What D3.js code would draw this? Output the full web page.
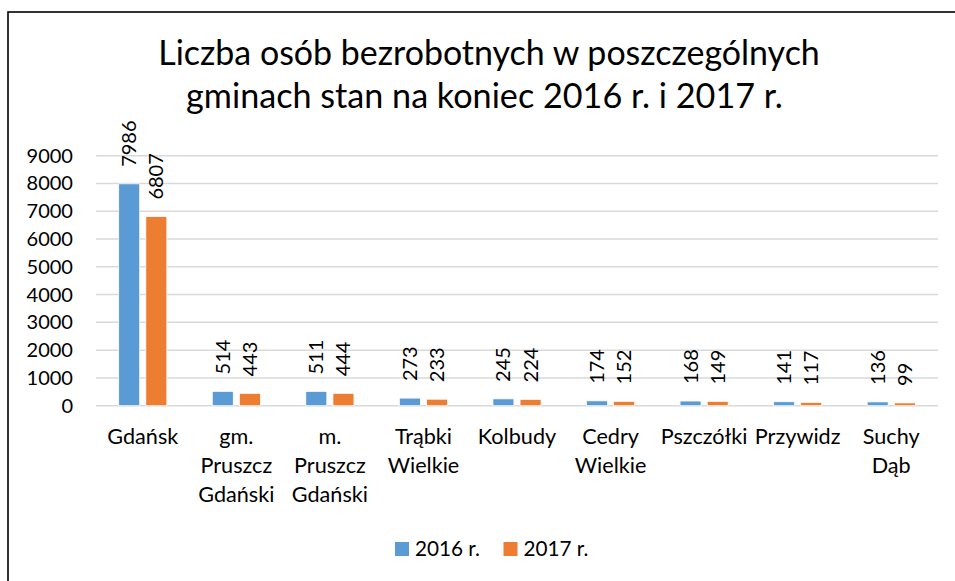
<!DOCTYPE html>
<html>
<head>
<meta charset="utf-8">
<script src="https://cdn.jsdelivr.net/npm/d3@7"></script>
<style>
  body { margin: 0; background: #fff; }
  svg { display: block; }
</style>
</head>
<body>
<div id="chart"></div>
<script>
// data
var categories = ['Gdańsk', 'gm. Pruszcz Gdański', 'm. Pruszcz Gdański', 'Trąbki Wielkie',
  'Kolbudy', 'Cedry Wielkie', 'Pszczółki', 'Przywidz', 'Suchy Dąb'];
var values2016 = [7986, 514, 511, 273, 245, 174, 168, 141, 136];
var values2017 = [6807, 443, 444, 233, 224, 152, 149, 117, 99];
var seriesNames = ['2016 r.', '2017 r.'];
var yTicks = [0, 1000, 2000, 3000, 4000, 5000, 6000, 7000, 8000, 9000];
var titleLines = ['Liczba osób bezrobotnych w poszczególnych', 'gminach stan na koniec 2016 r. i 2017 r.'];

var width = 955, height = 581;
var font = 'Lato, Open Sans, sans-serif';
var colors = ['#5b9bd5', '#ed7d31'];

var svg = d3.select('#chart').append('svg')
  .attr('width', width)
  .attr('height', height);

// chart frame (runs off the right and bottom edge in the original)
svg.append('rect')
  .attr('x', 8).attr('y', 12)
  .attr('width', 1000).attr('height', 1000)
  .attr('fill', 'none')
  .attr('stroke', '#000')
  .attr('stroke-width', 1.6);

// size a font so that a sample string gets a given width
function fitSize(str, target) {
  var t = svg.append('text').style('font-family', font).style('font-size', '100px').text(str);
  var w = t.node().getComputedTextLength();
  t.remove();
  return 100 * target / w;
}
var labelSize = fitSize('Gdańsk', 71);
var tickSize = fitSize('9000', 46.5);

// title
svg.selectAll('.title')
  .data(titleLines)
  .enter()
  .append('text')
  .attr('class', 'title')
  .attr('x', function(d, i) { return i == 0 ? 489 : 484.5; })
  .attr('y', function(d, i) { return i == 0 ? 65 : 108; })
  .attr('text-anchor', 'middle')
  .style('font-family', font)
  .style('font-size', function(d, i) { return fitSize(d, i == 0 ? 662 : 597) + 'px'; })
  .attr('fill', '#000')
  .text(function(d) { return d; });

var plotLeft = 96, plotRight = 938, plotTop = 155.7, plotBottom = 405.7;

var x0 = d3.scaleBand()
  .domain(categories)
  .range([plotLeft, plotRight])
  .padding(0);
var y = d3.scaleLinear()
  .domain([0, 9000])
  .range([plotBottom, plotTop]);

var bw = x0.bandwidth();
var barW = bw * 0.224;
var barGap = bw * 0.066;
var x1 = d3.scaleOrdinal()
  .domain([0, 1])
  .range([bw / 2 - barGap / 2 - barW, bw / 2 + barGap / 2]);

// gridlines
svg.append('g')
  .selectAll('line')
  .data(yTicks)
  .enter()
  .append('line')
  .attr('x1', plotLeft).attr('x2', plotRight)
  .attr('y1', function(d) { return y(d); })
  .attr('y2', function(d) { return y(d); })
  .attr('stroke', '#d9d9d9')
  .attr('stroke-width', 1.5);

// y axis labels
var yAxis = svg.append('g')
  .attr('transform', 'translate(73,0)')
  .call(d3.axisLeft(y).tickValues(yTicks).tickSize(0).tickPadding(0).tickFormat(d3.format('d')));
yAxis.select('.domain').remove();
yAxis.selectAll('text')
  .style('font-family', font)
  .style('font-size', tickSize + 'px')
  .attr('fill', '#000');

// bars
var rows = categories.map(function(c, i) {
  return { cat: c, vals: [values2016[i], values2017[i]] };
});
var groups = svg.selectAll('.grp')
  .data(rows)
  .enter()
  .append('g')
  .attr('class', 'grp')
  .attr('transform', function(d) { return 'translate(' + x0(d.cat) + ',0)'; });

groups.selectAll('rect')
  .data(function(d) { return d.vals; })
  .enter()
  .append('rect')
  .attr('x', function(d, i) { return x1(i); })
  .attr('width', barW)
  .attr('y', function(d) { return y(d); })
  .attr('height', function(d) { return plotBottom - y(d); })
  .attr('fill', function(d, i) { return colors[i]; })
  .attr('stroke', '#fff')
  .attr('stroke-width', 0.7);

// value labels, rotated
groups.selectAll('.val')
  .data(function(d) { return d.vals; })
  .enter()
  .append('text')
  .attr('class', 'val')
  .attr('transform', function(d, i) {
    return 'translate(' + (x1(i) + barW / 2) + ',' + (y(d) - 17) + ') rotate(-90)';
  })
  .attr('text-anchor', 'start')
  .attr('dy', '0.35em')
  .style('font-family', font)
  .style('font-size', tickSize + 'px')
  .attr('fill', '#000')
  .text(function(d) { return d; });

// category labels, wrapped by word
function wrapWords(str, maxW, size) {
  var words = str.split(' ');
  var lines = [];
  var cur = '';
  var t = svg.append('text').style('font-family', font).style('font-size', size + 'px');
  words.forEach(function(w) {
    var test = cur ? cur + ' ' + w : w;
    t.text(test);
    if (cur && t.node().getComputedTextLength() > maxW) {
      lines.push(cur);
      cur = w;
    } else {
      cur = test;
    }
  });
  lines.push(cur);
  t.remove();
  return lines;
}

var xLabels = svg.selectAll('.xlab')
  .data(categories)
  .enter()
  .append('text')
  .attr('class', 'xlab')
  .attr('text-anchor', 'middle')
  .style('font-family', font)
  .style('font-size', labelSize + 'px')
  .attr('fill', '#000');

xLabels.each(function(c) {
  var lines = wrapWords(c, 84, labelSize);
  var el = d3.select(this);
  lines.forEach(function(l, j) {
    el.append('tspan')
      .attr('x', x0(c) + bw / 2)
      .attr('y', 444 + j * 29)
      .text(l);
  });
});

// legend
var legendX = [395, 503.5];
var legend = svg.selectAll('.leg')
  .data(seriesNames)
  .enter()
  .append('g')
  .attr('class', 'leg')
  .attr('transform', function(d, i) { return 'translate(' + legendX[i] + ',542)'; });
legend.append('rect')
  .attr('width', 14).attr('height', 14)
  .attr('fill', function(d, i) { return colors[i]; });
legend.append('text')
  .attr('x', 20)
  .attr('y', 14)
  .style('font-family', font)
  .style('font-size', fitSize('2016 r.', 65) + 'px')
  .attr('fill', '#000')
  .text(function(d) { return d; });
</script>
</body>
</html>
